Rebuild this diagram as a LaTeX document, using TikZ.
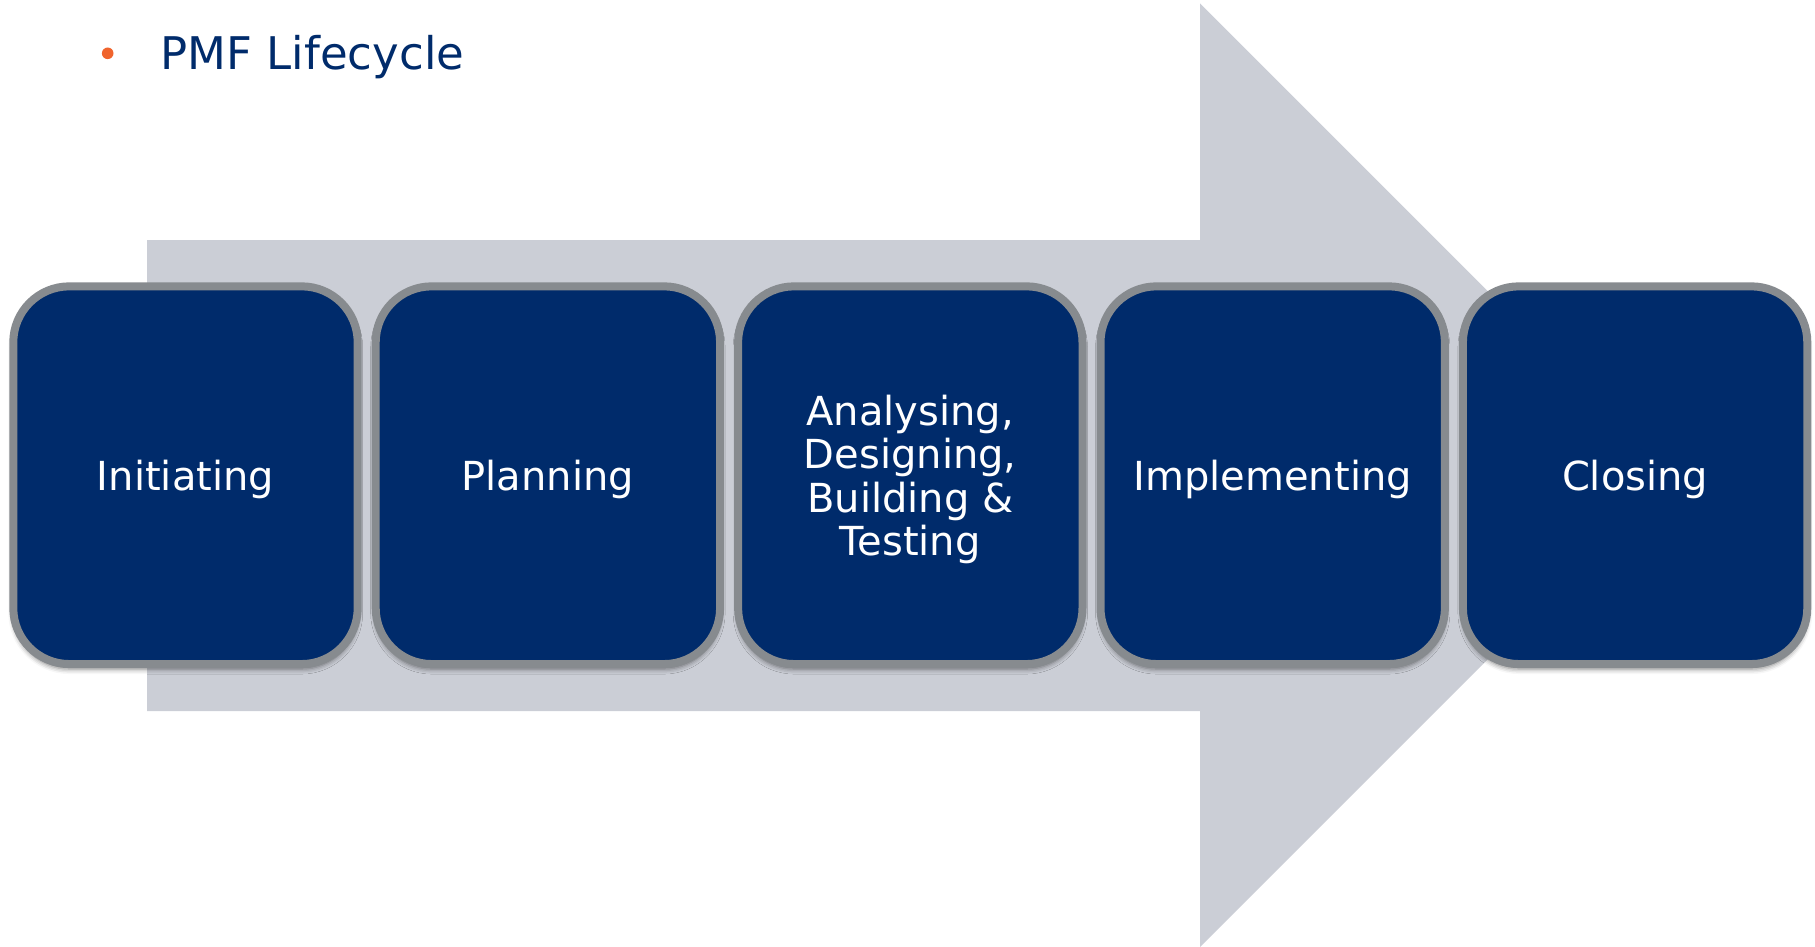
\documentclass[tikz,border=0pt]{standalone}
\usepackage{fontspec}
\setmainfont{DejaVu Sans}
\usetikzlibrary{shadows.blur}
\definecolor{navy}{HTML}{002B6B}
\definecolor{rimgray}{HTML}{878B8F}
\definecolor{arrowgray}{HTML}{CBCED6}
\definecolor{bulletorange}{HTML}{F0642D}
\tikzset{
  x=1pt, y=-1pt,
  phase/.style={draw=rimgray, line width=8pt, fill=navy, rounded corners=56pt,
    minimum width=344.4pt, minimum height=377.7pt, inner sep=0pt, text depth=0pt,
    text=white, align=center, font=\fontsize{40}{43.3}\selectfont,
    blur shadow={shadow xshift=0pt, shadow yshift=-5pt, shadow blur radius=5pt, shadow opacity=50}},
  titletext/.style={anchor=base west, inner sep=0pt, text=navy, font=\fontsize{45}{50}\selectfont},
  bigarrow/.style={fill=arrowgray}
}
\begin{document}
\begin{tikzpicture}
\useasboundingbox (0,0) rectangle (1815,947);
% big background arrow
\fill[bigarrow] (147,240) -- (1200,240) -- (1200,3.5) -- (1672,475.2) -- (1200,947) -- (1200,711) -- (147,711) -- cycle;
% title
\fill[bulletorange] (107.7,53.3) circle (5.8);
\node[titletext] (title) at (160.5,70) {PMF Lifecycle};
% phases
\node[phase] (p1) at (185.5,475.2) {Initiating};
\node[phase] (p2) at (547.9,475.2) {Planning};
\node[phase] (p3) at (910.3,475.2) {Analysing,\\Designing,\\Building \&\\Testing};
\node[phase] (p4) at (1272.7,475.2) {Implementing};
\node[phase] (p5) at (1635.1,475.2) {Closing};
\end{tikzpicture}
\end{document}
